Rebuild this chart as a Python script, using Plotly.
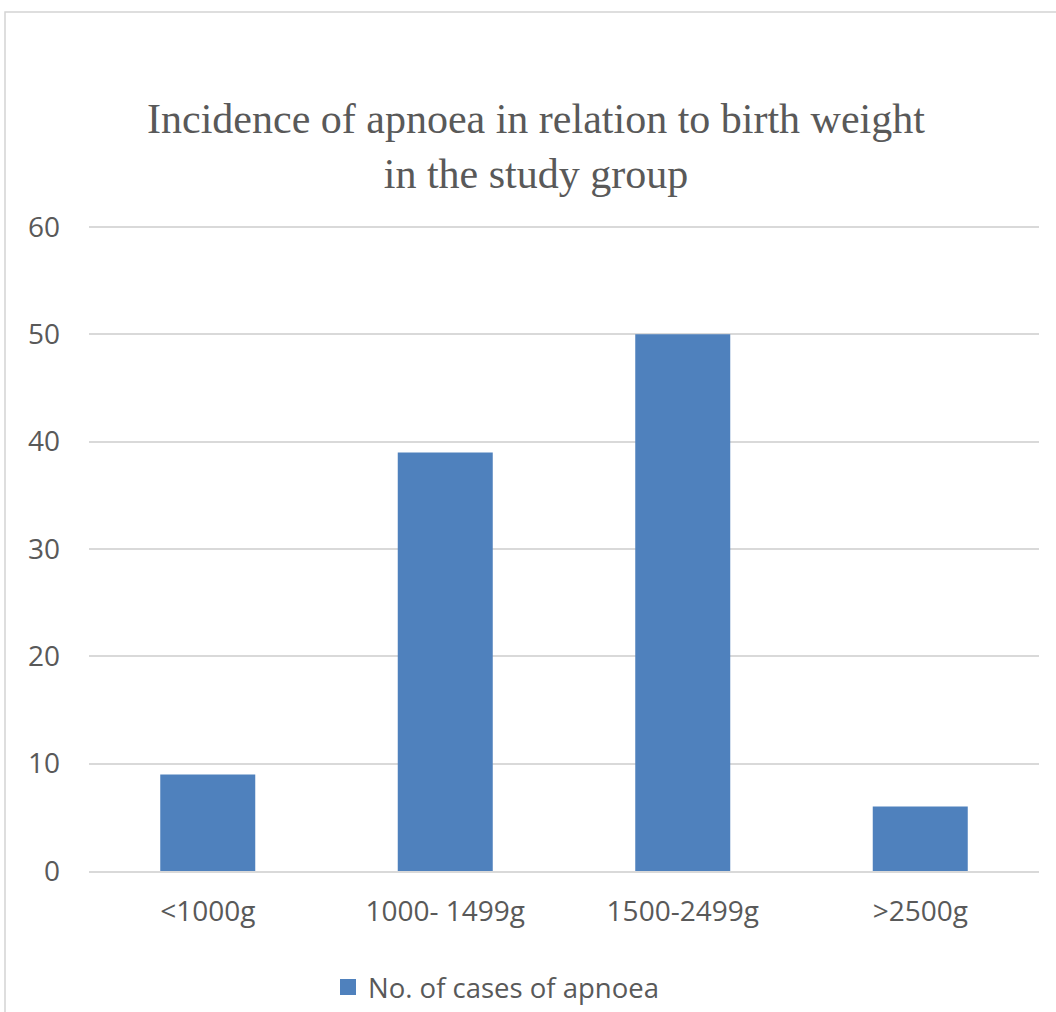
import plotly.graph_objects as go

categories = ["<1000g", "1000- 1499g", "1500-2499g", ">2500g"]
cases = [9, 39, 50, 6]
series_name = "No. of cases of apnoea"
y_ticks = [0, 10, 20, 30, 40, 50, 60]

W, H = 1056, 1012
ML, MR, MT, MB = 89, 17, 224, 141
PW = W - ML - MR
PH = H - MT - MB

def px_x(p):
    return (p - ML) / PW

def px_y(p):
    return (H - MB - p) / PH

fig = go.Figure()
fig.add_trace(go.Bar(
    x=categories, y=cases, name=series_name,
    marker=dict(color="#4F81BD", line=dict(width=0)),
    showlegend=False,
))
# legend-only entry with a larger square swatch
fig.add_trace(go.Scatter(
    x=[None], y=[None], name=series_name, mode="markers",
    marker=dict(color="#4F81BD", symbol="square", size=16),
    showlegend=True, hoverinfo="skip",
))

fig.update_layout(
    width=W, height=H,
    margin=dict(l=ML, r=MR, t=MT, b=MB, autoexpand=False),
    paper_bgcolor="white", plot_bgcolor="white",
    bargap=0.6,
    title=dict(
        text="Incidence of apnoea in relation to birth weight<br>in the study group",
        font=dict(family="Liberation Serif", size=42, color="#595959"),
        x=536 / W, xanchor="center", xref="container",
        y=1 - 133 / H, yanchor="top", yref="container",
    ),
    font=dict(family="Open Sans", size=28, color="#595959"),
    showlegend=True,
    legend=dict(
        orientation="h",
        x=328 / W, xanchor="left", xref="container",
        y=1 - 987 / H, yanchor="middle", yref="container",
        font=dict(family="Open Sans", size=27.5, color="#595959"),
        bgcolor="rgba(0,0,0,0)", itemwidth=30,
    ),
    xaxis=dict(
        showline=True, linecolor="#D9D9D9", linewidth=2,
        showgrid=False, ticks="", ticklabelstandoff=14,
        tickfont=dict(family="Open Sans", size=28, color="#595959"),
    ),
    yaxis=dict(
        range=[0, 60.28], tickvals=y_ticks,
        showgrid=True, gridcolor="#D9D9D9", gridwidth=1.5,
        zeroline=False, showline=False, ticks="", ticklabelstandoff=28,
        tickfont=dict(family="Open Sans", size=28, color="#595959"),
    ),
    shapes=[dict(
        type="rect", xref="paper", yref="paper",
        x0=px_x(5), x1=px_x(1070), y0=px_y(1030), y1=px_y(12),
        line=dict(color="#D4D4D4", width=1.5), fillcolor="rgba(0,0,0,0)",
        layer="below",
    )],
)

fig.write_html("out.html")
